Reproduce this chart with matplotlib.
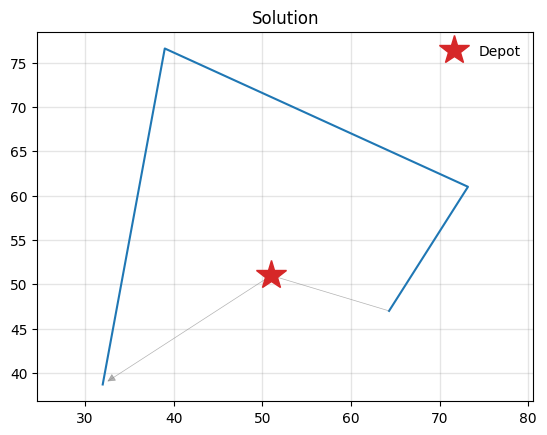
import matplotlib
matplotlib.use("Agg")
import matplotlib.pyplot as plt

depot = (51.0, 51.0)
route_x = [32.0, 39.0, 73.2, 64.3]
route_y = [38.7, 76.6, 61.0, 47.0]

fig, ax = plt.subplots(figsize=(6.4, 4.8), dpi=100)
ax.plot(route_x, route_y, color="tab:blue", zorder=2)
ax.annotate("", xy=(route_x[0], route_y[0]), xytext=depot,
            arrowprops=dict(arrowstyle="-|>", color="gray", lw=0.5, alpha=0.6,
                            shrinkA=0, shrinkB=4, mutation_scale=12))
ax.plot([route_x[-1], depot[0]], [route_y[-1], depot[1]], color="gray", lw=0.5, alpha=0.6)
ax.plot([depot[0]], [depot[1]], marker="*", color="tab:red", markersize=22, linestyle="none",
        label="Depot", zorder=3)
ax.grid(True, color="gray", alpha=0.2, lw=1.0)
ax.set_axisbelow(True)
ax.axis("equal")
ax.set_title("Solution")
ax.legend(frameon=False, loc="upper right")
fig.savefig("out.png", bbox_inches="tight")
